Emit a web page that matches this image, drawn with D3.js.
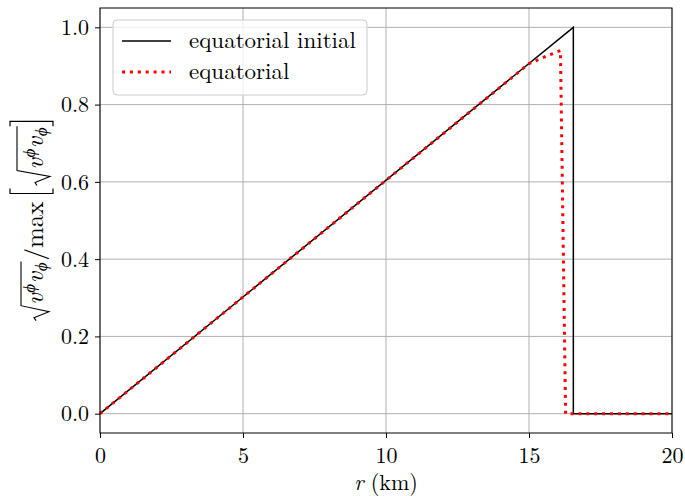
<!DOCTYPE html>
<html>
<head>
<meta charset="utf-8">
<script src="https://cdn.jsdelivr.net/npm/d3@7"></script>
<style>
  body { margin: 0; background: #fff; }
</style>
</head>
<body>
<div id="chart"></div>
<script>
// data
var initR = [0, 16.55, 16.55, 20];
var initV = [0, 1.0, 0, 0];
var eqR = [0, 15.0, 15.5, 16.1, 16.28, 20];
var eqV = [0, 0.906, 0.922, 0.94, 0, 0];
var xTicks = [0, 5, 10, 15, 20];
var yTicks = [0.0, 0.2, 0.4, 0.6, 0.8, 1.0];
var legendLabels = ["equatorial initial", "equatorial"];

const FONT = "'Latin Modern Roman', 'Liberation Serif', serif";
const W = 685, H = 496;
const margin = {top: 8, right: 13, bottom: 63, left: 100};
const width = W - margin.left - margin.right,
      height = H - margin.top - margin.bottom;

const svg = d3.select("#chart").append("svg")
  .attr("width", W).attr("height", H);

const g = svg.append("g")
  .attr("transform", `translate(${margin.left},${margin.top})`);

var xScale = d3.scaleLinear().domain([0, 20]).range([0, width]);
var yScale = d3.scaleLinear().domain([-0.05, 1.05]).range([height, 0]);

// grid
g.append("g").selectAll("line").data(xTicks).join("line")
  .attr("x1", d => xScale(d)).attr("x2", d => xScale(d))
  .attr("y1", 0).attr("y2", height)
  .attr("stroke", "#b0b0b0").attr("stroke-width", 1);
g.append("g").selectAll("line").data(yTicks).join("line")
  .attr("y1", d => yScale(d)).attr("y2", d => yScale(d))
  .attr("x1", 0).attr("x2", width)
  .attr("stroke", "#b0b0b0").attr("stroke-width", 1);

// axes
var xAxis = g.append("g")
  .attr("transform", `translate(0,${height})`)
  .call(d3.axisBottom(xScale).tickValues(xTicks).tickFormat(d3.format("d")).tickSize(5).tickPadding(6).tickSizeOuter(0));
var yAxis = g.append("g")
  .call(d3.axisLeft(yScale).tickValues(yTicks).tickFormat(d3.format(".1f")).tickSize(5).tickPadding(6).tickSizeOuter(0));
[xAxis, yAxis].forEach(a => {
  a.select(".domain").remove();
  a.selectAll("line").attr("stroke", "#000").attr("stroke-width", 1);
  a.selectAll("text").attr("fill", "#000").style("font-size", "22px").style("font-family", FONT);
});
xAxis.selectAll("text").attr("dy", "0.88em");
yAxis.selectAll("text").attr("dy", "0.33em");

// lines
var line = d3.line().x(d => xScale(d[0])).y(d => yScale(d[1]));
g.append("path")
  .datum(d3.zip(initR, initV))
  .attr("d", line)
  .attr("fill", "none").attr("stroke", "#000").attr("stroke-width", 1.5);
g.append("path")
  .datum(d3.zip(eqR, eqV))
  .attr("d", line)
  .attr("fill", "none").attr("stroke", "red").attr("stroke-width", 3)
  .attr("stroke-dasharray", "3,4.9");

// frame
g.append("rect").attr("width", width).attr("height", height)
  .attr("fill", "none").attr("stroke", "#000").attr("stroke-width", 1);

// legend
var leg = g.append("g").attr("transform", "translate(13,12)");
leg.append("rect").attr("width", 254).attr("height", 75).attr("rx", 4)
  .attr("fill", "#fff").attr("fill-opacity", 0.8)
  .attr("stroke", "#cccccc").attr("stroke-width", 1);
legendLabels.forEach((lab, i) => {
  var yy = 21 + i * 31;
  var ln = leg.append("line").attr("x1", 9).attr("x2", 58).attr("y1", yy).attr("y2", yy);
  if (i == 0) ln.attr("stroke", "#000").attr("stroke-width", 1.5);
  else ln.attr("stroke", "red").attr("stroke-width", 3).attr("stroke-dasharray", "3,4.9");
  leg.append("text").attr("x", 76).attr("y", yy + 7)
    .style("font-family", FONT).style("font-size", "23px").text(lab);
});

// x label
svg.append("text").attr("x", margin.left + width / 2).attr("y", 490)
  .attr("text-anchor", "middle").style("font-family", FONT).style("font-size", "22px")
  .call(t => {
    t.append("tspan").style("font-style", "italic").text("r");
    t.append("tspan").text(" (km)");
  });

// y label, built from pieces
var yl = svg.append("g");
var F = 25;
function piece(x, str, size, italic, dy) {
  var t = yl.append("text").attr("x", x).attr("y", dy || 0)
    .style("font-family", FONT)
    .style("font-size", size + "px").style("font-style", italic ? "italic" : "normal").text(str);
  return x + t.node().getComputedTextLength();
}
function vv(x) {
  x = piece(x, "v", F, true);
  x = piece(x + 0.5, "ϕ", F * 0.68, true, -8);
  x = piece(x + 0.5, "v", F, true);
  x = piece(x + 0.5, "ϕ", F * 0.68, true, 4);
  return x;
}
function radical(x, top, bottom) {
  var start = x;
  var cx = x + 15;
  var end = vv(cx + 1) + 1;
  yl.append("path")
    .attr("d", `M${start},${bottom - 13} L${start + 3},${bottom - 15} L${start + 9},${bottom} L${cx},${top} L${end},${top}`)
    .attr("fill", "none").attr("stroke", "#000").attr("stroke-width", 1.1);
  return end;
}
function bracket(x, dir) {
  var top = -33, bot = 10, s = 5;
  yl.append("path")
    .attr("d", `M${x + dir * s},${top} L${x},${top} L${x},${bot} L${x + dir * s},${bot}`)
    .attr("fill", "none").attr("stroke", "#000").attr("stroke-width", 1.2);
  return x + 2;
}
var x = radical(0, -22, 6);
x = piece(x + 1, "/max", F, false);
x = bracket(x + 8, 1) + 6;
x = radical(x, -26, 7);
x = bracket(x + 5, -1);
yl.selectAll("text, path").attr("transform", `translate(${-x / 2},0)`);
yl.attr("transform", "translate(43,220) rotate(-90)");
</script>
</body>
</html>
